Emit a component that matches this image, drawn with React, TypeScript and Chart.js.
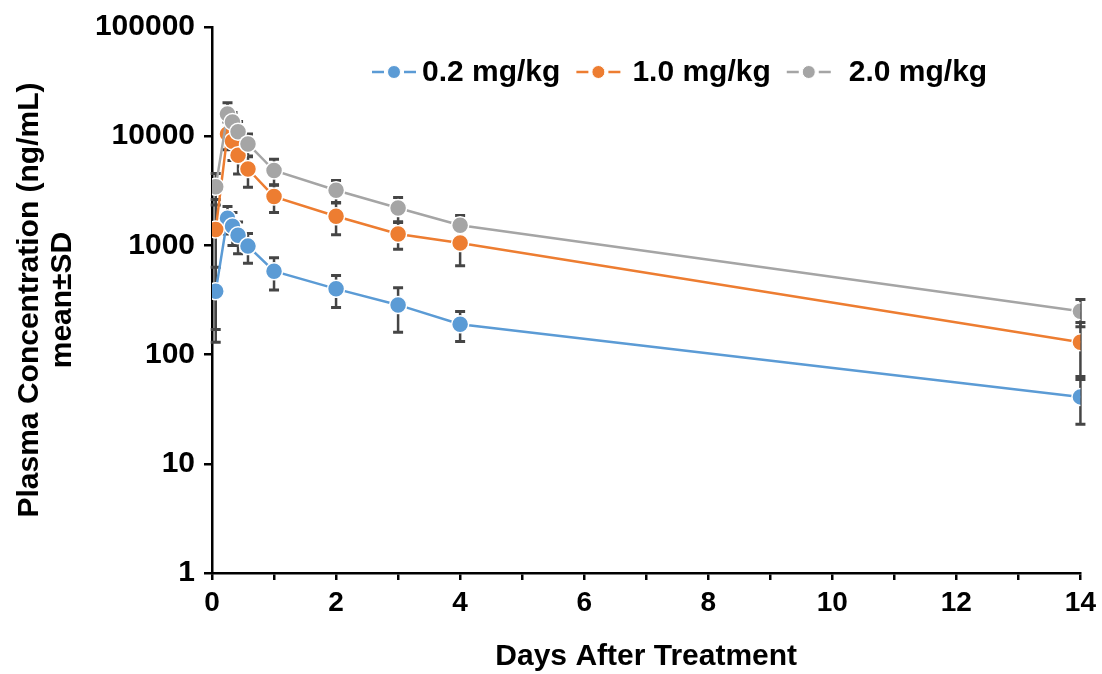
import React, { useEffect, useRef } from "react";
import { Chart, registerables } from "chart.js";

Chart.register(...registerables);

// ---- data ----
const days = [0.06, 0.25, 0.33, 0.42, 0.58, 1, 2, 3, 4, 14];
const seriesLabels = ["0.2 mg/kg", "1.0 mg/kg", "2.0 mg/kg"];
const seriesColors = ["#5B9BD5", "#ED7D31", "#A5A5A5"];
const low = [380, 1770, 1500, 1240, 985, 580, 400, 285, 190, 41];
const lowSD = [250, 500, 500, 400, 300, 190, 130, 125, 58, 18];
const mid = [1400, 10500, 9000, 6700, 5000, 2800, 1850, 1270, 1050, 130];
const midSD = [1230, 3000, 3000, 2200, 1600, 800, 600, 350, 400, 67];
const high = [3450, 16000, 13500, 11000, 8500, 4850, 3200, 2200, 1530, 250];
const highSD = [1100, 4200, 3000, 2600, 2000, 1300, 730, 550, 350, 70];
const yTickValues = [1, 10, 100, 1000, 10000, 100000];
const yTickLabels = ["1", "10", "100", "1000", "10000", "100000"];
const xTickLabels = ["0", "2", "4", "6", "8", "10", "12", "14"];
const xTitle = "Days After Treatment";
const yTitle = ["Plasma Concentration (ng/mL)", "mean±SD"];

const seriesValues = [low, mid, high];
const seriesSD = [lowSD, midSD, highSD];

const FONT = "'Liberation Sans', Arial, Helvetica, sans-serif";
const legendTextOffsets = [50, 56, 62];

const errorBarPlugin = {
  id: "errorBars",
  beforeDatasetsDraw(chart: any) {
    const { ctx } = chart;
    const xs = chart.scales.x;
    const ys = chart.scales.y;
    ctx.save();
    ctx.strokeStyle = "#454545";
    ctx.lineCap = "butt";
    chart.data.datasets.forEach((ds: any, di: number) => {
      const sd = seriesSD[di];
      ds.data.forEach((p: any, j: number) => {
        const px = xs.getPixelForValue(p.x);
        const hi = ys.getPixelForValue(p.y + sd[j]);
        const lo = ys.getPixelForValue(Math.max(p.y - sd[j], 1));
        ctx.lineWidth = 2.5;
        ctx.beginPath();
        ctx.moveTo(px, hi);
        ctx.lineTo(px, lo);
        ctx.stroke();
        ctx.lineWidth = 3;
        ctx.beginPath();
        ctx.moveTo(px - 5, hi);
        ctx.lineTo(px + 5, hi);
        ctx.moveTo(px - 5, lo);
        ctx.lineTo(px + 5, lo);
        ctx.stroke();
      });
    });
    ctx.restore();
  },
};

const legendPlugin = {
  id: "customLegend",
  afterDraw(chart: any) {
    const { ctx } = chart;
    ctx.save();
    ctx.font = `bold 30px ${FONT}`;
    ctx.textBaseline = "middle";
    ctx.textAlign = "left";
    let x = 372;
    const y = 72;
    chart.data.datasets.forEach((ds: any, i: number) => {
      const c = ds.borderColor;
      ctx.strokeStyle = c;
      ctx.lineWidth = 2.5;
      ctx.beginPath();
      ctx.moveTo(x, y);
      ctx.lineTo(x + 12, y);
      ctx.moveTo(x + 32, y);
      ctx.lineTo(x + 44, y);
      ctx.stroke();
      ctx.beginPath();
      ctx.arc(x + 22, y, 6.5, 0, Math.PI * 2);
      ctx.fillStyle = c;
      ctx.fill();
      ctx.strokeStyle = "#fff";
      ctx.lineWidth = 1;
      ctx.stroke();
      x += legendTextOffsets[i];
      ctx.fillStyle = "#000";
      ctx.fillText(ds.label, x, y + 1);
      x += ctx.measureText(ds.label).width + 16;
    });
    ctx.restore();
  },
};

export default function App() {
  const ref = useRef<HTMLCanvasElement | null>(null);
  useEffect(() => {
    if (!ref.current) return;
    const datasets = seriesValues.map((vals, i) => ({
      label: seriesLabels[i],
      data: days.map((d, j) => ({ x: d, y: vals[j] })),
      borderColor: seriesColors[i],
      backgroundColor: seriesColors[i],
      pointBackgroundColor: seriesColors[i],
      pointBorderColor: "#ffffff",
      pointBorderWidth: 1.5,
      pointRadius: 8.5,
      borderWidth: 2.5,
      tension: 0,
      order: 3 - i,
    }));
    const chart = new Chart(ref.current, {
      type: "line",
      data: { datasets },
      plugins: [errorBarPlugin, legendPlugin],
      options: {
        responsive: false,
        animation: false,
        devicePixelRatio: 1,
        layout: { padding: { left: 0, right: 20, top: 25, bottom: 0 } },
        plugins: {
          legend: { display: false },
          tooltip: { enabled: false },
        },
        scales: {
          x: {
            type: "linear",
            min: 0,
            max: 14,
            afterFit: (s: any) => {
              s.height = 101;
            },
            ticks: {
              stepSize: 1,
              autoSkip: false,
              maxRotation: 0,
              padding: 6,
              color: "#000",
              font: { family: FONT, size: 28, weight: "bold" },
              callback: (v: any) => (xTickLabels.includes(String(v)) ? String(v) : ""),
            },
            grid: {
              drawOnChartArea: false,
              drawTicks: true,
              tickLength: 7,
              color: "#000",
              lineWidth: 2.5,
            },
            border: { color: "#000", width: 2.5 },
            title: {
              display: true,
              text: xTitle,
              color: "#000",
              padding: { top: 0, bottom: 0 },
              font: { family: FONT, size: 30, weight: "bold", lineHeight: 1.15 },
            },
          },
          y: {
            type: "logarithmic",
            min: 1,
            max: 100000,
            afterFit: (s: any) => {
              s.width = 212;
            },
            afterBuildTicks: (s: any) => {
              s.ticks = yTickValues.map((v) => ({ value: v }));
            },
            ticks: {
              autoSkip: false,
              padding: 9,
              color: "#000",
              font: { family: FONT, size: 30, weight: "bold" },
              callback: (v: any) => {
                const i = yTickValues.indexOf(Number(v));
                return i >= 0 ? yTickLabels[i] : "";
              },
            },
            grid: {
              drawOnChartArea: false,
              drawTicks: true,
              tickLength: 8,
              color: "#000",
              lineWidth: 2.5,
            },
            border: { color: "#000", width: 2.5 },
            title: {
              display: true,
              text: yTitle,
              color: "#000",
              padding: { top: 13, bottom: 0 },
              font: { family: FONT, size: 30, weight: "bold", lineHeight: 1.1 },
            },
          },
        },
      },
    });
    return () => chart.destroy();
  }, []);
  return (
    <div style={{ position: "absolute", left: 0, top: 0, width: 1102, height: 674 }}>
      <canvas ref={ref} width={1102} height={674} style={{ display: "block" }} />
    </div>
  );
}
